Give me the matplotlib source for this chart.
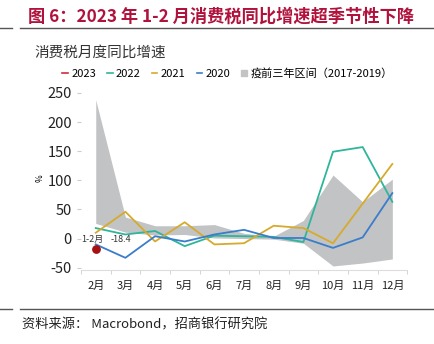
import matplotlib
matplotlib.use("Agg")
import matplotlib.pyplot as plt
from matplotlib.lines import Line2D
from matplotlib.patches import Patch

plt.rcParams['font.family'] = ['Noto Sans CJK SC', 'DejaVu Sans']
plt.rcParams['axes.unicode_minus'] = False

months = ['2月', '3月', '4月', '5月', '6月', '7月', '8月', '9月', '10月', '11月', '12月']
band_hi = [238, 37, 22, 22, 24, 9, 4, 31, 109, 63, 102]
band_lo = [26, 11, 6, 7, 1, 0, -1, -8, -47, -42, -35]
y2022 = [18, 7, 13, -13, 5, 4, 3, -6, 149, 157, 63]
y2021 = [10, 46, -5, 28, -10, -8, 22, 18, -8, 60, 128]
y2020 = [-10, -33, 4, -5, 7, 15, 1, 1, -16, 2, 78]
y2023 = [-18.4]

c22, c21, c20, c23 = '#2fb59b', '#d6aa2c', '#3a7dca', '#d42a3a'

fig = plt.figure(figsize=(4.35, 3.44), dpi=100)
ax = fig.add_axes([0.186, 0.215, 0.75, 0.532])

x = list(range(len(months)))
ax.fill_between(x, band_lo, band_hi, color='#c2c3c5', lw=0)
ax.plot(x, y2022, color=c22, lw=1.3)
ax.plot(x, y2021, color=c21, lw=1.3)
ax.plot(x, y2020, color=c20, lw=1.3)
ax.scatter([0], y2023, color='#a51010', s=28, zorder=5)
ax.text(-0.48, -1, '1-2月', fontsize=6.5, va='center', ha='left', color='#333333')
ax.text(0.5, -1, '-18.4', fontsize=6.5, va='center', ha='left', color='#333333')

ax.set_xlim(-0.5, 10.5)
ax.set_ylim(-54, 260)
ax.set_yticks([-50, 0, 50, 100, 150, 200, 250])
ax.set_xticks(x)
ax.set_xticklabels(months)
ax.set_xticks([i - 0.5 for i in range(12)], minor=True)
ax.tick_params(axis='x', which='major', length=0, labelsize=8, pad=8, colors='#222222')
ax.tick_params(axis='x', which='minor', length=3, color='#cccccc')
ax.tick_params(axis='y', length=3, color='#cccccc', labelsize=10.5, colors='#222222')
for s in ['top', 'right', 'left']:
    ax.spines[s].set_visible(False)
ax.spines['bottom'].set_color('#dddddd')
ax.set_ylabel('%', fontsize=6, labelpad=2)

handles = [Line2D([], [], color=c23, lw=1.2),
           Line2D([], [], color=c22, lw=1.2),
           Line2D([], [], color=c21, lw=1.2),
           Line2D([], [], color=c20, lw=1.2),
           Patch(color='#c2c3c5')]
labels = ['2023', '2022', '2021', '2020', '疫前三年区间（2017-2019）']
fig.legend(handles, labels, loc='center left', bbox_to_anchor=(0.12, 0.787),
           ncol=5, frameon=False, fontsize=8, handlelength=0.5, handletextpad=0.3,
           columnspacing=1.0, handleheight=0.4)

fig.text(0.08, 0.848, '消费税月度同比增速', fontsize=10.5, color='#333333', va='center')
fig.text(0.065, 0.951, '图 6：2023 年 1-2 月消费税同比增速超季节性下降', fontsize=12.4,
         fontweight='bold', color='#b0123c', va='center')
fig.add_artist(Line2D([0, 0.028], [0.919, 0.919], color='#555555', lw=1))
fig.add_artist(Line2D([0.046, 1], [0.919, 0.919], color='#555555', lw=1))
fig.add_artist(Line2D([0, 0.028], [0.101, 0.101], color='#555555', lw=1))
fig.add_artist(Line2D([0.046, 1], [0.101, 0.101], color='#555555', lw=1))
fig.text(0.05, 0.055, '资料来源： Macrobond，招商银行研究院', fontsize=9.5, color='#222222', va='center')

fig.savefig('out.png', dpi=100)
